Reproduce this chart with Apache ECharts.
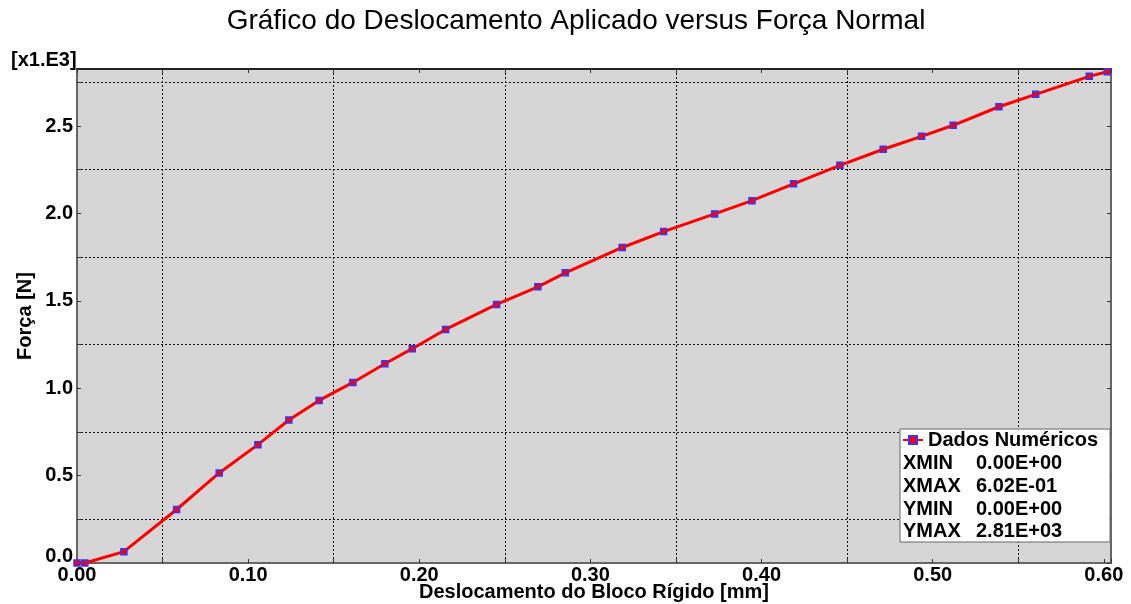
<!DOCTYPE html>
<html><head><meta charset="utf-8">
<script src="https://cdn.jsdelivr.net/npm/echarts@6/dist/echarts.min.js"></script>
<style>html,body{margin:0;padding:0;background:#fff}#c{width:1131px;height:604px}</style>
</head><body><div id="c"></div>
<script>
const titleText = 'Gráfico do Deslocamento Aplicado versus Força Normal';
const xName = 'Deslocamento do Bloco Rígido [mm]';
const yName = 'Força [N]';
const yScaleNote = '[x1.E3]';
const seriesName = 'Dados Numéricos';

// Displacement [mm]
const displacement = [0, 0.0046, 0.0274, 0.0582, 0.0831, 0.1057, 0.1238, 0.1415, 0.1612, 0.1799,
  0.1959, 0.2154, 0.2452, 0.2693, 0.2853, 0.3186, 0.3428, 0.3726, 0.3944, 0.4187,
  0.4458, 0.4711, 0.4935, 0.5120, 0.5387, 0.5602, 0.5915, 0.602];
// Force [N] in units of 1.E3
const force = [0, 0, 0.065, 0.306, 0.515, 0.677, 0.818, 0.930, 1.033, 1.140,
  1.226, 1.336, 1.479, 1.580, 1.660, 1.805, 1.896, 1.997, 2.073, 2.169,
  2.275, 2.367, 2.441, 2.504, 2.610, 2.681, 2.784, 2.810];

const xTickLabels = ['0.00', '0.10', '0.20', '0.30', '0.40', '0.50', '0.60'];
const yTickLabels = ['0.0', '0.5', '1.0', '1.5', '2.0', '2.5'];
const statLabels = ['XMIN', 'XMAX', 'YMIN', 'YMAX'];
const statValues = ['0.00E+00', '6.02E-01', '0.00E+00', '2.81E+03'];

const xMin = 0, xMax = 0.6042, xStep = 0.05, xLabelStep = 0.1;
const yMin = 0, yMax = 2.826, yStep = 0.25, yLabelStep = 0.5;

const FONT = '"Liberation Sans", Arial, Helvetica, sans-serif';

function labelFor(v, step, labels) {
  const k = v / step;
  const r = Math.round(k);
  if (Math.abs(k - r) < 1e-6 && r >= 0 && r < labels.length) return labels[r];
  return '';
}

const axisLineStyle = { color: '#666', width: 2 };
const tickStyle = { show: true, inside: true, length: 4, lineStyle: { color: '#333', width: 1 } };
const gridDash = { color: ['rgba(0,0,0,0)', '#111'], type: [2, 2], width: 1 };
const labelFont = { fontSize: 20, fontWeight: 'bold', color: '#000', fontFamily: FONT };

const chart = echarts.init(document.getElementById('c'), null, { renderer: 'canvas' });
chart.setOption({
  animation: false,
  backgroundColor: '#fff',
  title: {
    text: titleText, left: 576, top: 7, textAlign: 'center', padding: 0,
    textStyle: { fontSize: 28, fontWeight: 'normal', color: '#000', fontFamily: FONT }
  },
  grid: {
    left: 77, right: 20, top: 69, bottom: 41,
    show: true, backgroundColor: '#d6d6d6', borderWidth: 0,
    containLabel: false, outerBoundsMode: 'none'
  },
  legend: {
    data: [seriesName], left: 902, top: 430, padding: 0, itemWidth: 20, itemHeight: 10,
    z: 20, selectedMode: false, textStyle: labelFont
  },
  xAxis: [{
    type: 'value', position: 'bottom', min: xMin, max: xMax, interval: xStep,
    name: xName, nameLocation: 'middle', nameGap: 19, nameMoveOverlap: false,
    nameTextStyle: labelFont,
    axisLine: { show: true, onZero: false, lineStyle: axisLineStyle },
    axisTick: tickStyle,
    axisLabel: Object.assign({ margin: 2, formatter: v => labelFor(v, xLabelStep, xTickLabels) }, labelFont),
    splitLine: { show: true, showMaxLine: false, lineStyle: gridDash }
  }, {
    type: 'value', position: 'top', min: xMin, max: xMax, interval: xStep,
    axisLine: { show: true, onZero: false, lineStyle: { color: '#222', width: 2 } },
    axisTick: tickStyle,
    axisLabel: { show: false }, splitLine: { show: false }
  }],
  yAxis: [{
    type: 'value', position: 'left', min: yMin, max: yMax, interval: yStep,
    name: yName, nameLocation: 'middle', nameGap: 42, nameRotate: 90, nameMoveOverlap: false,
    nameTextStyle: labelFont,
    axisLine: { show: true, onZero: false, lineStyle: axisLineStyle },
    axisTick: tickStyle,
    axisLabel: Object.assign({
      margin: 4,
      formatter: v => {
        const t = labelFor(v, yLabelStep, yTickLabels);
        return (t && v === yMin) ? '{z|' + t + '}' : t;
      },
      rich: { z: Object.assign({ padding: [0, 0, 14, 0] }, labelFont) }
    }, labelFont),
    splitLine: { show: true, showMaxLine: false, lineStyle: gridDash }
  }, {
    type: 'value', position: 'right', min: yMin, max: yMax, interval: yStep,
    axisLine: { show: true, onZero: false, lineStyle: axisLineStyle },
    axisTick: tickStyle,
    axisLabel: { show: false }, splitLine: { show: false }
  }],
  series: [{
    name: seriesName, type: 'line', xAxisIndex: 0, yAxisIndex: 0,
    data: displacement.map((x, i) => [x, force[i]]),
    symbol: 'rect', symbolSize: 6, showSymbol: true,
    lineStyle: { color: '#ff0000', width: 3 },
    itemStyle: { color: '#ff0000', borderColor: '#3535ff', borderWidth: 1.5 },
    z: 3
  }],
  graphic: [
    { type: 'text', z: 20, style: { x: 11, y: 60, text: yScaleNote, verticalAlign: 'middle',
      fill: '#000', fontSize: 20, fontWeight: 'bold', fontFamily: FONT } },
    { type: 'rect', z: 10, shape: { x: 900, y: 429, width: 210, height: 113 },
      style: { fill: '#fff', stroke: '#666', lineWidth: 1 } }
  ].concat(statLabels.map((t, i) => ({
    type: 'text', z: 20, style: { x: 903, y: 463.5 + i * 22.8, text: t, verticalAlign: 'middle',
      fontSize: 20, fontWeight: 'bold', fontFamily: FONT, fill: '#000' }
  }))).concat(statValues.map((t, i) => ({
    type: 'text', z: 20, style: { x: 976, y: 463.5 + i * 22.8, text: t, verticalAlign: 'middle',
      fontSize: 20, fontWeight: 'bold', fontFamily: FONT, fill: '#000' }
  })))
});
</script>
</body></html>
